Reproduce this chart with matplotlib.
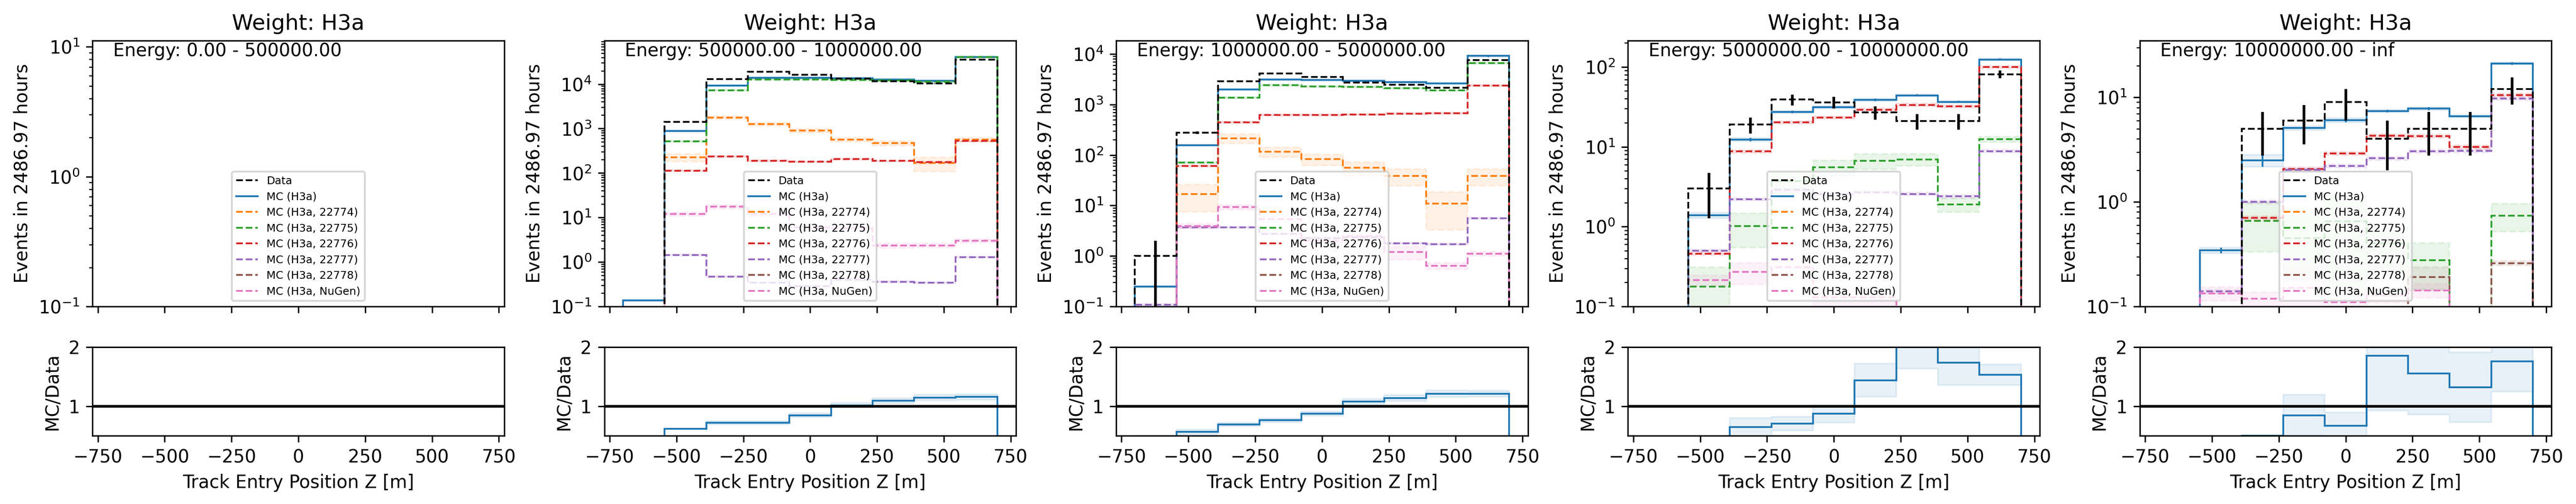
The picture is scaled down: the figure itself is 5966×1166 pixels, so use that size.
import numpy as np
import matplotlib
matplotlib.use('Agg')
import matplotlib.pyplot as plt
from matplotlib.gridspec import GridSpec

# bin edges of track entry z [m]
edges = np.array([-700, -544.4, -388.9, -233.3, -77.8, 77.8, 233.3, 388.9, 544.4, 700])

energy_labels = ['0.00 - 500000.00', '500000.00 - 1000000.00', '1000000.00 - 5000000.00',
                 '5000000.00 - 10000000.00', '10000000.00 - inf']

mc_labels = ['MC (H3a)', 'MC (H3a, 22774)', 'MC (H3a, 22775)', 'MC (H3a, 22776)',
             'MC (H3a, 22777)', 'MC (H3a, 22778)', 'MC (H3a, NuGen)']

# data counts per energy bin
data_e0 = [0, 0, 0, 0, 0, 0, 0, 0, 0]
data_e1 = [0, 1420, 12900, 19100, 16200, 13200, 11600, 10300, 35500]
data_e2 = [1, 278, 2900, 4120, 3490, 2720, 2450, 2150, 7550]
data_e3 = [0, 3, 19, 39, 36, 27, 21, 21, 81]
data_e4 = [0, 0, 5, 6, 9, 4, 5, 5, 12]

# MC total
mc_e0 = [0, 0, 0, 0, 0, 0, 0, 0, 0]
mc_e1 = [0.136, 880, 9250, 13800, 13700, 13400, 12700, 11800, 41000]
mc_e2 = [0.249, 157, 2000, 3130, 3040, 2930, 2780, 2600, 9150]
mc_e3 = [0, 1.38, 12.3, 27.4, 31.4, 38.8, 44, 36.5, 124]
mc_e4 = [0, 0.343, 2.49, 5.07, 6.04, 7.41, 7.78, 6.59, 21.1]

# MC components (22774, 22775, 22776, 22777, 22778, NuGen)
zeros = [0, 0, 0, 0, 0, 0, 0, 0, 0]
comp_e0 = [zeros, zeros, zeros, zeros, zeros, zeros]
comp_e1 = [[0, 224, 1760, 1260, 900, 561, 470, 167, 561],
           [0, 519, 7300, 12800, 12800, 12400, 12100, 11300, 40500],
           [0, 113, 237, 189, 179, 205, 187, 176, 531],
           [0, 1.43, 0.467, 0.345, 0.285, 0.40, 0.36, 0.34, 1.28],
           zeros,
           [0, 12.0, 17.4, 12.0, 6.0, 5.7, 2.32, 2.36, 2.97]]
comp_e2 = [[0, 16.7, 215, 115, 83, 55.5, 38.5, 11.0, 38.5],
           [0, 71.6, 1355, 2400, 2290, 2250, 2110, 1910, 6620],
           [0, 60.5, 442, 617, 617, 632, 655, 675, 2360],
           [0.109, 3.66, 3.70, 2.73, 2.26, 2.33, 1.79, 1.72, 5.55],
           zeros,
           [0, 3.93, 9.25, 5.4, 2.0, 2.5, 1.19, 0.635, 1.11]]
comp_e3 = [zeros,
           [0, 0.178, 1.01, 3.7, 5.53, 6.66, 6.96, 1.89, 12.4],
           [0, 0.459, 8.73, 20.2, 23.2, 29.2, 33.5, 32.2, 100],
           [0, 0.50, 2.2, 2.88, 2.54, 2.7, 2.57, 2.39, 8.83],
           zeros,
           [0, 0.214, 0.27, 0.31, 0.13, 0.13, 0, 0, 0]]
comp_e4 = [zeros,
           [0, 0, 0.66, 0.45, 0.65, 0.4, 0.276, 0, 0.74],
           [0, 0, 0.70, 2.06, 2.9, 4.3, 4.26, 3.34, 10.5],
           [0, 0.139, 1.0, 2.03, 2.21, 2.61, 3.05, 3.08, 9.72],
           [0, 0, 0, 0, 0, 0, 0.19, 0, 0.26],
           [0, 0.133, 0.119, 0.15, 0.11, 0.128, 0.142, 0, 0]]

# relative MC errors where the band is visible (others use DEFAULT_REL_ERR)
DEFAULT_REL_ERR = 0.04
relerr_e1 = {'MC (H3a, 22774)': [0, 0.2, 0.08, 0.08, 0.1, 0.1, 0.12, 0.35, 0.1],
             'MC (H3a, NuGen)': [0, 0.1, 0.1, 0.12, 0.12, 0.12, 0.12, 0.12, 0.1]}
relerr_e2 = {'MC (H3a, 22774)': [0, 0.55, 0.22, 0.22, 0.25, 0.3, 0.36, 0.7, 0.36],
             'MC (H3a, NuGen)': [0, 0.1, 0.1, 0.15, 0.2, 0.2, 0.3, 0.15, 0.1]}
relerr_e3 = {'MC (H3a)': [0, 0.08, 0.05, 0.04, 0.04, 0.04, 0.03, 0.03, 0.03],
             'MC (H3a, 22775)': [0, 0.75, 0.46, 0.3, 0.22, 0.22, 0.17, 0.2, 0.08],
             'MC (H3a, NuGen)': [0, 0.15, 0.3, 0.3, 0.4, 0.4, 0, 0, 0]}
relerr_e4 = {'MC (H3a)': [0, 0.06, 0.13, 0.04, 0.05, 0.03, 0.03, 0.03, 0.03],
             'MC (H3a, 22775)': [0, 0, 0.5, 0.6, 0.8, 0.5, 0.47, 0, 0.3],
             'MC (H3a, 22778)': [0, 0, 0, 0, 0, 0, 0.25, 0, 0.05],
             'MC (H3a, NuGen)': [0, 0.15, 0.15, 0.6, 0.3, 0.15, 0.15, 0, 0]}

panels = [(data_e0, mc_e0, comp_e0, {}),
          (data_e1, mc_e1, comp_e1, relerr_e1),
          (data_e2, mc_e2, comp_e2, relerr_e2),
          (data_e3, mc_e3, comp_e3, relerr_e3),
          (data_e4, mc_e4, comp_e4, relerr_e4)]

ytops = [11.2, 9.6e4, 1.86e4, 215, 35]
colors = ['C0', 'C1', 'C2', 'C3', 'C4', 'C5', 'C6']
livetime = 2486.97


def band(ax, lo, hi, color, ls='-'):
    # step band over the bins, first value repeated for the 'pre' step
    ax.fill_between(edges, np.r_[lo[0], lo], np.r_[hi[0], hi], step='pre',
                    color=color, alpha=0.1, ls=ls, lw=1)


fig = plt.figure(figsize=(5966/300, 1166/300), dpi=300)
gs = GridSpec(2, 5, figure=fig, height_ratios=[3, 1], left=0.0359, right=0.9905,
              top=0.9198, bottom=0.1355, wspace=0.243, hspace=0.229)
centers = 0.5*(edges[1:] + edges[:-1])

for k, (data, mc, comps, relerr) in enumerate(panels):
    ax = fig.add_subplot(gs[0, k])
    axr = fig.add_subplot(gs[1, k], sharex=ax)
    ax.set_yscale('log')

    data = np.array(data, float)
    mc = np.array(mc, float)
    series = [mc] + [np.array(c, float) for c in comps]

    handles = []
    for lab, vals, col in zip(mc_labels, series, colors):
        ls = '-' if lab == 'MC (H3a)' else '--'
        rel = np.array(relerr.get(lab, [DEFAULT_REL_ERR]*9), float)
        err = vals*rel
        band(ax, vals - err, vals + err, col, ls)
        h = ax.stairs(vals, edges, color=col, lw=1, ls=ls, label=lab)
        handles.append(h)
        if lab == 'MC (H3a)':
            m = vals > 0
            ax.errorbar(centers[m], vals[m], yerr=err[m], fmt='none', ecolor=col, elinewidth=1)

    hd = ax.stairs(data, edges, color='k', lw=1, ls='--', label='Data', zorder=3)
    m = data > 0
    ax.errorbar(centers[m], data[m], yerr=np.sqrt(data[m]), fmt='none', ecolor='k',
                elinewidth=1.5, zorder=3)

    ax.legend(handles=[hd] + handles, loc='lower center', fontsize=6)
    ax.set_ylim(0.1, ytops[k])
    ax.set_xlim(-770, 770)
    ax.set_title('Weight: H3a')
    ax.set_ylabel('Events in %.2f hours' % livetime)
    ax.text(0.05, 0.94, 'Energy: ' + energy_labels[k], transform=ax.transAxes, fontsize=10)
    plt.setp(ax.get_xticklabels(), visible=False)

    # ratio panel
    with np.errstate(divide='ignore', invalid='ignore'):
        ratio = np.where(data > 0, mc/data, np.nan)
        rel_mc = np.array(relerr.get('MC (H3a)', [DEFAULT_REL_ERR]*9), float)
        rerr = ratio*np.sqrt(1/data + rel_mc**2)
    band(axr, ratio - rerr, ratio + rerr, 'C0')
    axr.stairs(ratio, edges, color='C0', lw=1)
    axr.axhline(1, color='k', lw=1.5)
    axr.set_ylim(0.5, 2)
    axr.set_yticks([1, 2])
    axr.set_ylabel('MC/Data')
    axr.set_xlabel('Track Entry Position Z [m]')

fig.savefig('out.png', dpi=300)
